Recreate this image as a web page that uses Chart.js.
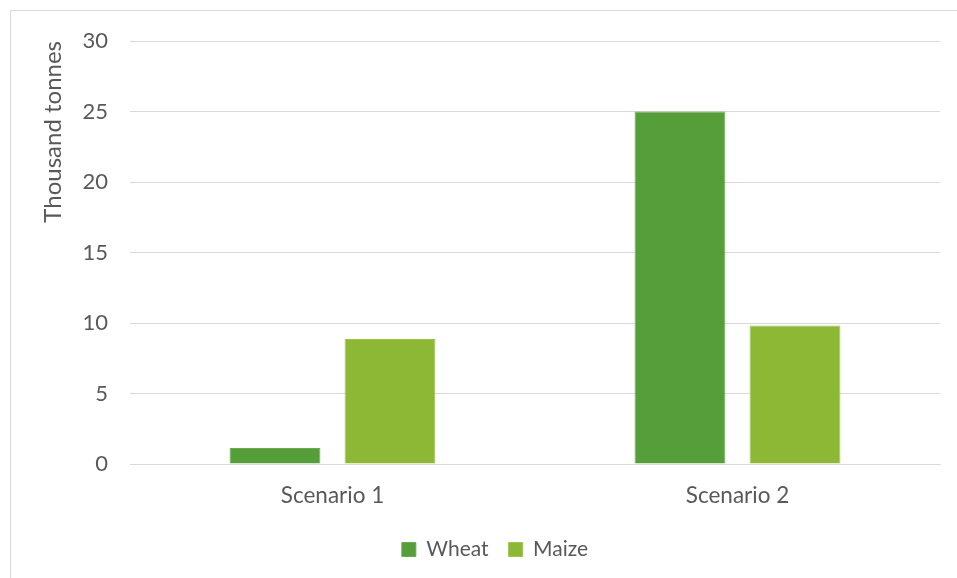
<!DOCTYPE html>
<html><head><meta charset="utf-8">
<script src="https://cdn.jsdelivr.net/npm/chart.js@4"></script>
<style>
html,body{margin:0;padding:0;background:#fff;width:957px;height:578px;overflow:hidden;}
#frame{position:absolute;left:10px;top:10px;width:980px;height:600px;border:1px solid #d9d9d9;box-sizing:border-box;}
#wrap{position:absolute;left:0;top:0;width:957px;height:578px;}
</style></head>
<body>
<div id="frame"></div>
<div id="wrap"><canvas id="c" width="957" height="578"></canvas></div>
<script>
const categories = ["Scenario 1", "Scenario 2"];
const wheat = [1.13, 25.0];
const maize = [8.87, 9.83];
const yTicks = [0, 5, 10, 15, 20, 25, 30];

const FONT = "Lato";
const TXT = "#595959";
Chart.defaults.font.family = FONT;
Chart.defaults.color = TXT;

const legendShift = {
  id: "legendShift",
  afterLayout(chart) {
    const lg = chart.legend;
    if (lg) { lg.left += 25; lg.right += 25; }
  }
};

new Chart(document.getElementById("c"), {
  type: "bar",
  data: {
    labels: categories,
    datasets: [
      { label: "Wheat", data: wheat, backgroundColor: "#559e3a", borderColor: "#6aab52", borderWidth: 1, categoryPercentage: 0.568, barPercentage: 0.79 },
      { label: "Maize", data: maize, backgroundColor: "#8cb836", borderColor: "#9dc450", borderWidth: 1, categoryPercentage: 0.568, barPercentage: 0.79 }
    ]
  },
  plugins: [legendShift],
  options: {
    responsive: false,
    animation: false,
    devicePixelRatio: 1,
    layout: { padding: { top: 41, right: 17, left: 0, bottom: 8 } },
    plugins: {
      legend: {
        position: "bottom",
        labels: { boxWidth: 14, boxHeight: 14, padding: 20, font: { size: 21, family: FONT }, color: TXT }
      },
      tooltip: { enabled: false }
    },
    scales: {
      x: {
        grid: { display: false, drawTicks: false },
        border: { display: true, color: "#d9d9d9", width: 1 },
        ticks: { padding: 18, font: { size: 22.5, family: FONT }, color: TXT },
        afterFit: s => { s.height = 55; }
      },
      y: {
        min: 0, max: 30,
        afterBuildTicks: s => { s.ticks = yTicks.map(v => ({ value: v })); },
        grid: { color: "#d9d9d9", lineWidth: 1, drawTicks: false },
        border: { display: false },
        ticks: { padding: 22, font: { size: 22, family: FONT }, color: TXT },
        title: { display: true, text: "Thousand tonnes", align: "end", font: { size: 24, family: FONT }, color: TXT, padding: { top: 39, bottom: 0 } },
        afterFit: s => { s.width = 130; }
      }
    }
  }
});
</script>
</body></html>
